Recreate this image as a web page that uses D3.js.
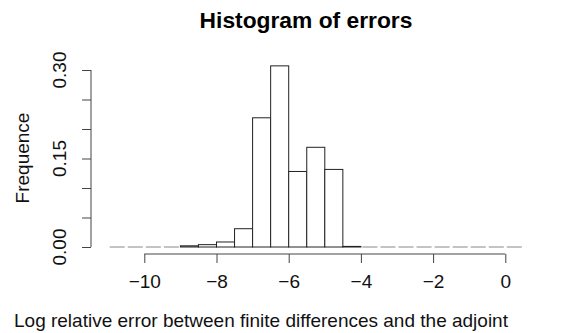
<!DOCTYPE html>
<html>
<head>
<meta charset="utf-8">
<script src="https://cdn.jsdelivr.net/npm/d3@7"></script>
<style>
  body { margin: 0; background: #fff; }
  svg { display: block; font-family: "Liberation Sans", Arial, sans-serif; }
</style>
</head>
<body>
<div id="chart"></div>
<script>
// bin edges and relative frequencies of the histogram
const breaks = [-11, -10.5, -10, -9.5, -9, -8.5, -8, -7.5, -7, -6.5, -6, -5.5, -5,
  -4.5, -4, -3.5, -3, -2.5, -2, -1.5, -1, -0.5, 0, 0.5];
const freqs = [0, 0, 0, 0, 0.002, 0.004, 0.0085, 0.031, 0.219, 0.307, 0.128, 0.169,
  0.1315, 0.001, 0, 0, 0, 0, 0, 0, 0, 0, 0];
const xTicks = [-10, -8, -6, -4, -2, 0];
const yTicks = [0, 0.05, 0.1, 0.15, 0.2, 0.25, 0.3];
const yLabels = [0, 0.15, 0.3];

const width = 568, height = 333;

const bins = freqs.map((f, i) => ({ x0: breaks[i], x1: breaks[i + 1], f }));

const x = d3.scaleLinear().domain([-10, 0]).range([144.3, 505.3]);
const y = d3.scaleLinear().domain([0, 0.3]).range([247, 70]);

const svg = d3.select('#chart').append('svg')
  .attr('width', width)
  .attr('height', height);

// title
svg.append('text')
  .attr('x', 306)
  .attr('y', 28)
  .attr('text-anchor', 'middle')
  .style('font-size', '22.8px')
  .style('font-weight', 'bold')
  .text('Histogram of errors');

// bars with a height
svg.append('g')
  .selectAll('rect')
  .data(bins.filter(d => d.f > 0))
  .join('rect')
  .attr('x', d => x(d.x0))
  .attr('y', d => y(d.f))
  .attr('width', d => x(d.x1) - x(d.x0))
  .attr('height', d => Math.max(0.6, y(0) - y(d.f)))
  .attr('fill', '#fff')
  .attr('stroke', '#222')
  .attr('stroke-width', 1);

// empty bins only show their bottom edge
svg.append('g')
  .selectAll('line')
  .data(bins.filter(d => d.f === 0))
  .join('line')
  .attr('x1', d => x(d.x0) + 1.5)
  .attr('x2', d => x(d.x1) - 1.5)
  .attr('y1', y(0))
  .attr('y2', y(0))
  .attr('stroke', '#888')
  .attr('stroke-width', 1);

// x axis
const xAxis = svg.append('g')
  .attr('transform', 'translate(0,254)')
  .call(d3.axisBottom(x).tickValues(xTicks).tickSize(9).tickSizeOuter(0).tickPadding(11.5));
xAxis.select('.domain').remove();
xAxis.append('line')
  .attr('x1', x(xTicks[0]))
  .attr('x2', x(xTicks[xTicks.length - 1]))
  .attr('stroke', '#444');
xAxis.selectAll('.tick line').attr('stroke', '#444');
xAxis.selectAll('.tick text')
  .attr('fill', '#111')
  .style('font-size', '19px')
  .style('font-family', '"Liberation Sans", Arial, sans-serif');

// y axis
const yAxis = svg.append('g')
  .attr('transform', 'translate(91,0)')
  .call(d3.axisLeft(y).tickValues(yTicks).tickSize(9).tickSizeOuter(0).tickFormat(''));
yAxis.select('.domain').remove();
yAxis.append('line')
  .attr('y1', y(0))
  .attr('y2', y(0.3))
  .attr('stroke', '#444');
yAxis.selectAll('.tick line').attr('stroke', '#444');

svg.append('g')
  .selectAll('text')
  .data(yLabels)
  .join('text')
  .attr('transform', d => `translate(66,${y(d)}) rotate(-90)`)
  .attr('text-anchor', 'middle')
  .attr('fill', '#111')
  .style('font-size', '19px')
  .text(d3.format('.2f'));

// axis titles
svg.append('text')
  .attr('transform', 'translate(29,158) rotate(-90)')
  .attr('text-anchor', 'middle')
  .attr('fill', '#111')
  .style('font-size', '19px')
  .text('Frequence');

svg.append('text')
  .attr('x', 14)
  .attr('y', 327)
  .attr('fill', '#111')
  .style('font-size', '19px')
  .text('Log relative error between finite differences and the adjoint');
</script>
</body>
</html>
